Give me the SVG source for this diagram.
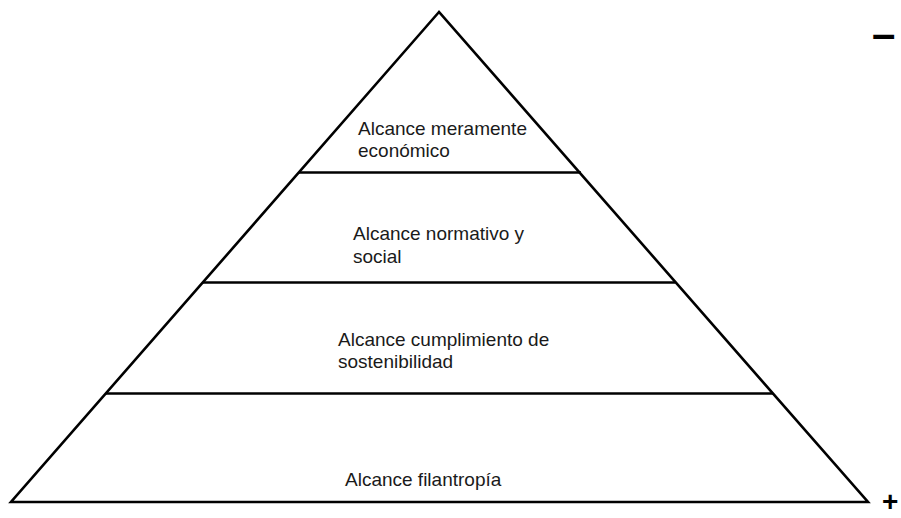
<svg xmlns="http://www.w3.org/2000/svg" width="901" height="518" viewBox="0 0 901 518">
<style>
.edge{fill:none;stroke:#000;stroke-width:2.6;stroke-linejoin:miter;stroke-linecap:butt}
.lbl{font-family:"Liberation Sans",Arial,sans-serif;font-size:19px;fill:#1a1a1a}
.sign{font-family:"Liberation Sans",Arial,sans-serif;font-weight:bold;fill:#000}
</style>
<rect width="901" height="518" fill="#fff"/>
<g id="connectors">
<polygon class="edge" points="439,12 11,502 868,502"/>
<line class="edge" x1="299" y1="172.5" x2="581" y2="172.5"/>
<line class="edge" x1="203" y1="282.5" x2="675" y2="282.5"/>
<line class="edge" x1="106" y1="393.5" x2="773" y2="393.5"/>
</g>
<g id="nivel-economico">
<text class="lbl" x="358" y="135">Alcance meramente</text>
<text class="lbl" x="358" y="157">económico</text>
</g>
<g id="nivel-normativo">
<text class="lbl" x="353" y="240">Alcance normativo y</text>
<text class="lbl" x="353" y="263">social</text>
</g>
<g id="nivel-sostenibilidad">
<text class="lbl" x="338" y="346">Alcance cumplimiento de</text>
<text class="lbl" x="338" y="368">sostenibilidad</text>
</g>
<g id="nivel-filantropia">
<text class="lbl" x="345" y="486">Alcance filantropía</text>
</g>
<g id="escala">
<text class="sign" x="872" y="48" font-size="42">–</text>
<text class="sign" x="882" y="511" font-size="28">+</text>
</g>
</svg>
